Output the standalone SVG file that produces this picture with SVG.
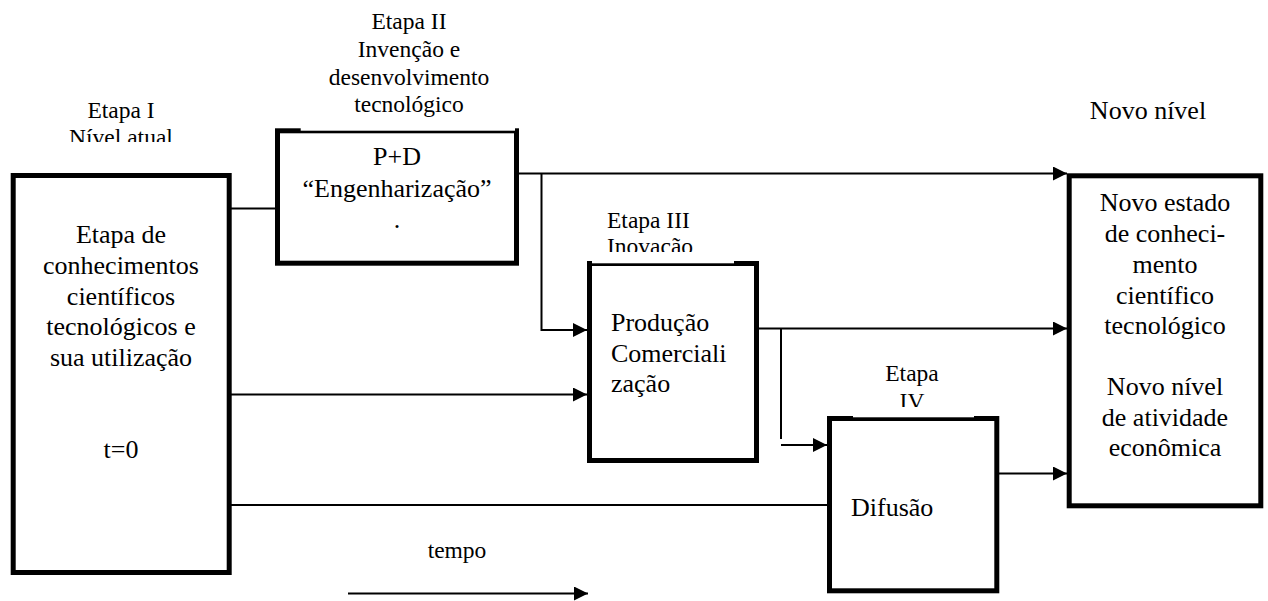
<svg xmlns="http://www.w3.org/2000/svg" width="1268" height="601" viewBox="0 0 1268 601" font-family="'Liberation Serif', 'Times New Roman', serif">
<defs>
<style>
.box{fill:#fff;stroke:#000;stroke-width:5}
.t{font-family:"Liberation Serif","Times New Roman",serif;font-size:26px;fill:#000}
.l{font-family:"Liberation Serif","Times New Roman",serif;font-size:23.5px;fill:#000}
.c{text-anchor:middle}
.cn{fill:none;stroke:#000;stroke-width:2}
.bg{fill:#fff;stroke:none}
</style>
<marker id="ah" markerUnits="userSpaceOnUse" markerWidth="15" markerHeight="15" refX="14" refY="7" orient="auto">
<path d="M0,0 L14,7 L0,14 Z" fill="#000"/>
</marker>
<clipPath id="clipI"><rect x="0" y="90" width="240" height="52"/></clipPath>
<clipPath id="clipIII"><rect x="590" y="200" width="150" height="52"/></clipPath>
<clipPath id="clipIV"><rect x="853" y="350" width="121" height="57"/></clipPath>
</defs>

<g id="connectors">
<line class="cn" x1="231" y1="208.5" x2="276" y2="208.5"/>
<line class="cn" x1="518" y1="173.5" x2="1067" y2="173.5" marker-end="url(#ah)"/>
<polyline class="cn" points="541.5,173.5 541.5,330 587,330" marker-end="url(#ah)"/>
<line class="cn" x1="231" y1="394.5" x2="587" y2="394.5" marker-end="url(#ah)"/>
<line class="cn" x1="758" y1="328.5" x2="1067" y2="328.5" marker-end="url(#ah)"/>
<line class="cn" x1="781" y1="328.5" x2="781" y2="439"/>
<line class="cn" x1="781" y1="445" x2="827" y2="445" marker-end="url(#ah)"/>
<line class="cn" x1="231" y1="505" x2="828" y2="505"/>
<line class="cn" x1="998" y1="473.5" x2="1067" y2="473.5" marker-end="url(#ah)"/>
<line class="cn" x1="348" y1="593.5" x2="588" y2="593.5" marker-end="url(#ah)"/>
</g>

<g id="etapa1">
<rect class="box" x="13.2" y="175.5" width="216" height="397"/>
<text class="t c" x="121" y="243">Etapa de</text>
<text class="t c" x="121" y="274">conhecimentos</text>
<text class="t c" x="121" y="304.5">científicos</text>
<text class="t c" x="121" y="335">tecnológicos e</text>
<text class="t c" x="121" y="366">sua utilização</text>
<text class="t c" x="121" y="458">t=0</text>
</g>

<g id="etapa2">
<rect class="box" x="277.5" y="130.8" width="239" height="132.4"/>
<text class="t c" x="397" y="165">P+D</text>
<text class="t c" x="397" y="197">“Engenharização”</text>
<text class="t c" x="397" y="228">.</text>
</g>

<g id="etapa3">
<rect class="box" x="589.5" y="263.5" width="167" height="197"/>
<text class="t" x="611" y="331">Produção</text>
<text class="t" x="611" y="362">Comerciali</text>
<text class="t" x="611" y="392">zação</text>
</g>

<g id="etapa4">
<rect class="box" x="829.5" y="418.5" width="167.3" height="172.3"/>
<text class="t" x="851" y="516">Difusão</text>
</g>

<g id="novo">
<rect class="box" x="1069.2" y="175.8" width="191.6" height="330"/>
<text class="t c" x="1165" y="211">Novo estado</text>
<text class="t c" x="1165" y="242">de conheci-</text>
<text class="t c" x="1165" y="273">mento</text>
<text class="t c" x="1165" y="303.5">científico</text>
<text class="t c" x="1165" y="334">tecnológico</text>
<text class="t c" x="1165" y="395">Novo nível</text>
<text class="t c" x="1165" y="425.5">de atividade</text>
<text class="t c" x="1165" y="456">econômica</text>
</g>

<g id="label-etapa1">
<text class="l c" x="121" y="117.5">Etapa I</text>
<text class="l c" x="121" y="145" clip-path="url(#clipI)">Nível atual</text>
</g>

<g id="label-etapa2">
<rect class="bg" x="300.7" y="0" width="214.3" height="130.7"/>
<text class="l c" x="409" y="29">Etapa II</text>
<text class="l c" x="409" y="57">Invenção e</text>
<text class="l c" x="409" y="84.5">desenvolvimento</text>
<text class="l c" x="409" y="112">tecnológico</text>
</g>

<g id="label-etapa3">
<rect class="bg" x="592" y="200" width="142" height="63.3"/>
<text class="l" x="607" y="228.3">Etapa III</text>
<text class="l" x="607" y="254" clip-path="url(#clipIII)">Inovação</text>
</g>

<g id="label-etapa4">
<rect class="bg" x="853" y="360" width="121" height="57.3"/>
<text class="l c" x="912" y="381">Etapa</text>
<text class="l c" x="912" y="409" clip-path="url(#clipIV)">IV</text>
</g>

<g id="label-novo">
<text class="t c" x="1148" y="119">Novo nível</text>
</g>

<g id="label-tempo">
<text class="l c" x="457" y="558.3">tempo</text>
</g>
</svg>
